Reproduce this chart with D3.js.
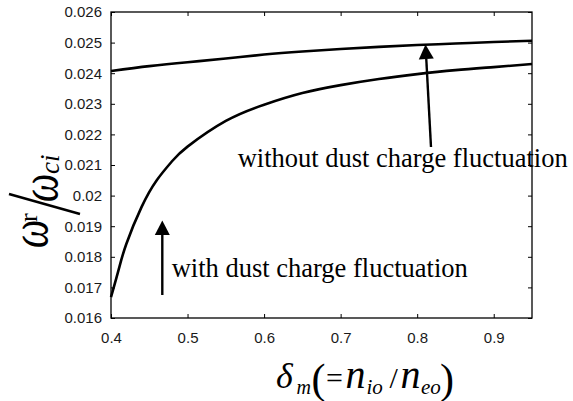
<!DOCTYPE html>
<html><head><meta charset="utf-8">
<script src="https://cdn.jsdelivr.net/npm/d3@7"></script>
<style>body{margin:0;background:#fff}svg{display:block}</style>
</head><body>
<svg id="c" width="573" height="401"></svg>
<script>
const xTicks = [0.4,0.5,0.6,0.7,0.8,0.9];
const yTicks = [0.016,0.017,0.018,0.019,0.02,0.021,0.022,0.023,0.024,0.025,0.026];
const xWithout = [0.4,0.45,0.5,0.55,0.6,0.65,0.7,0.75,0.8,0.85,0.9,0.95];
const yWithout = [0.02407,0.02423,0.02436,0.02448,0.02461,0.02471,0.02479,0.02486,0.02492,0.02497,0.02502,0.02506];
const xWith = [0.4,0.41,0.42,0.44,0.46,0.48,0.5,0.55,0.6,0.65,0.7,0.75,0.8,0.85,0.9,0.95];
const yWith = [0.01668,0.01758,0.01842,0.01963,0.02051,0.02113,0.0216,0.02244,0.02297,0.02335,0.02361,0.02381,0.02397,0.0241,0.0242,0.0243];
const labelWithout = "without dust charge fluctuation";
const labelWith = "with dust charge fluctuation";

const svg = d3.select("#c");
const L=111, R=532, T=12, B=318;
const x = d3.scaleLinear().domain([0.4,0.95]).range([L,R]);
const y = d3.scaleLinear().domain([0.016,0.026]).range([B,T]);

const tickFont = "'Liberation Sans', Arial, sans-serif";
const ax = d3.axisBottom(x).tickValues(xTicks).tickSize(-4).tickPadding(14).tickFormat(d3.format("~g"));
const gx = svg.append("g").attr("transform",`translate(0,${B})`).call(ax);
const ay = d3.axisLeft(y).tickValues(yTicks).tickSize(-4).tickPadding(9).tickFormat(d3.format("~g"));
const gy = svg.append("g").attr("transform",`translate(${L},0)`).call(ay);
const axT = d3.axisTop(x).tickValues(xTicks).tickSize(-4).tickFormat("");
const gt = svg.append("g").attr("transform",`translate(0,${T})`).call(axT);
const ayR = d3.axisRight(y).tickValues(yTicks).tickSize(-4).tickFormat("");
const gr = svg.append("g").attr("transform",`translate(${R},0)`).call(ayR);
[gx,gy,gt,gr].forEach(g=>{
  g.select(".domain").remove();
  g.selectAll("line").attr("stroke","#000").attr("stroke-width",1);
  g.selectAll("text").attr("fill","#1a1a1a").style("font-family",tickFont).style("font-size","15px");
});
svg.append("rect").attr("x",L).attr("y",T).attr("width",R-L).attr("height",B-T)
  .attr("fill","none").attr("stroke","#000").attr("stroke-width",1.3);

const line = d3.line().x(d=>x(d[0])).y(d=>y(d[1])).curve(d3.curveNatural);
svg.append("path").datum(d3.zip(xWithout,yWithout)).attr("d",line)
  .attr("fill","none").attr("stroke","#000").attr("stroke-width",2.6);
svg.append("path").datum(d3.zip(xWith,yWith)).attr("d",line)
  .attr("fill","none").attr("stroke","#000").attr("stroke-width",2.6);

function arrow(x0,y0,x1,y1){
  const ang = Math.atan2(y1-y0,x1-x0);
  const len=14.5, hw=7.5;
  const bx = x1-len*Math.cos(ang), by=y1-len*Math.sin(ang);
  svg.append("line").attr("x1",x0).attr("y1",y0).attr("x2",bx).attr("y2",by)
    .attr("stroke","#000").attr("stroke-width",2.4);
  const px=-Math.sin(ang), py=Math.cos(ang);
  svg.append("path").attr("d",`M${x1},${y1}L${bx+px*hw},${by+py*hw}L${bx-px*hw},${by-py*hw}Z`).attr("fill","#000");
}
arrow(431,147,425.5,44.5);
arrow(162.3,295,162.3,220.5);

const serif = "'Liberation Serif','Times New Roman',serif";
svg.append("text").attr("x",237.7).attr("y",167.3).text(labelWithout)
  .style("font-family",serif).style("font-size","26.5px").attr("fill","#000");
svg.append("text").attr("x",171.7).attr("y",276.7).text(labelWith)
  .style("font-family",serif).style("font-size","26.5px").attr("fill","#000");

// y label (rotated pieces)
function rtext(sx,sy,txt,size,italic,sc){
  svg.append("text").attr("transform",`translate(${sx},${sy}) rotate(-90) scale(${sc||"1,1"})`).text(txt)
    .style("font-family",serif).style("font-size",size+"px").style("font-style",italic?"italic":"normal").attr("fill","#000");
}
rtext(47,248,"ω",40,true,"1,1.3");
rtext(37,222,"r",26,false);
svg.append("line").attr("x1",9).attr("y1",194).attr("x2",80).attr("y2",214).attr("stroke","#000").attr("stroke-width",2.5);
rtext(57,202,"ω",40,true,"1,1.3");
rtext(59,174,"ci",27,true);

// x label
const xl = svg.append("text").attr("y",388).style("font-family",serif).attr("fill","#000");
xl.append("tspan").attr("x",276).attr("y",388).style("font-size","36px").style("font-style","italic").text("δ");
xl.append("tspan").attr("x",296.5).attr("y",394).style("font-size","20px").style("font-style","italic").text("m");
xl.append("tspan").attr("x",311.5).attr("y",393).style("font-size","42px").text("(");
xl.append("tspan").attr("x",326).attr("y",388).style("font-size","30px").text("=");
xl.append("tspan").attr("x",345.5).attr("y",388).style("font-size","40px").style("font-style","italic").text("n");
xl.append("tspan").attr("x",366.5).attr("y",394).style("font-size","21px").style("font-style","italic").text("io");
xl.append("tspan").attr("x",389.5).attr("y",388).style("font-size","30px").text("/");
xl.append("tspan").attr("x",400.5).attr("y",388).style("font-size","40px").style("font-style","italic").text("n");
xl.append("tspan").attr("x",421).attr("y",394).style("font-size","21px").style("font-style","italic").text("eo");
xl.append("tspan").attr("x",440).attr("y",393).style("font-size","42px").text(")");
</script>
</body></html>
